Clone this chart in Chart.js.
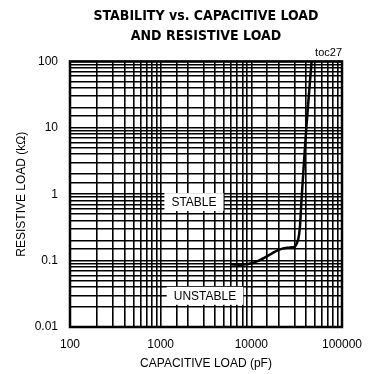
<!DOCTYPE html>
<html>
<head>
<meta charset="utf-8">
<script src="https://cdn.jsdelivr.net/npm/chart.js@4.4.1/dist/chart.umd.min.js"></script>
<style>
  body { margin: 0; background: #fff; }
  canvas { display: block; }
</style>
</head>
<body>
<canvas id="myChart1" width="376" height="374"></canvas>
<script>
// boundary between stable / unstable
var capLoad = [6000, 8000, 10400, 13000, 16000, 19000, 21600, 25000, 28500, 30300, 32900, 34400, 35800, 40400, 46200];
var resLoad = [0.088, 0.087, 0.092, 0.105, 0.123, 0.140, 0.150, 0.156, 0.159, 0.162, 0.21, 0.33, 0.84, 10, 100];

var xTickLabels = [100, 1000, 10000, 100000];
var yTickLabels = [0.01, 0.1, 1, 10, 100];

var regionNames = ["STABLE", "UNSTABLE"];
var regionCap = [2330, 3080];
var regionRes = [0.76, 0.0295];

var points = [];
for (var i = 0; i < capLoad.length; i++) {
  points.push({ x: capLoad[i], y: resLoad[i] });
}

var font = "'Liberation Sans', Arial, sans-serif";

// frame + region labels
var extras = {
  id: 'extras',
  afterDraw: function (chart) {
    var c = chart.ctx, a = chart.chartArea;
    c.save();
    c.strokeStyle = '#000';
    c.lineWidth = 2.5;
    c.strokeRect(a.left, a.top, a.right - a.left, a.bottom - a.top);
    c.font = '12px ' + font;
    c.textAlign = 'center';
    c.textBaseline = 'middle';
    for (var i = 0; i < regionNames.length; i++) {
      var px = chart.scales.x.getPixelForValue(regionCap[i]);
      var py = chart.scales.y.getPixelForValue(regionRes[i]);
      var w = c.measureText(regionNames[i]).width + 14;
      c.fillStyle = '#fff';
      c.fillRect(px - w / 2, py - 9, w, 18);
      c.fillStyle = '#000';
      c.fillText(regionNames[i], px, py + 1);
    }
    c.restore();
  }
};

function logLabel(list) {
  return function (v) {
    return list.indexOf(v) >= 0 ? String(v) : '';
  };
}

var ctx = document.getElementById("myChart1");
var myChart = new Chart(ctx, {
  type: 'line',
  data: {
    datasets: [{
      data: points,
      borderColor: '#000',
      borderWidth: 2.5,
      pointRadius: 0,
      tension: 0.2,
      fill: false
    }]
  },
  options: {
    responsive: false,
    animation: false,
    layout: { padding: { left: 0, right: 34, top: 0, bottom: 0 } },
    plugins: {
      legend: { display: false },
      tooltip: { enabled: false },
      title: {
        display: true,
        fullSize: false,
        text: ['STABILITY vs. CAPACITIVE LOAD', 'AND RESISTIVE LOAD'],
        color: '#000',
        font: { family: "'DejaVu Sans Condensed', sans-serif", size: 14, weight: 'bold', lineHeight: 1.4 },
        padding: { top: 7, bottom: 0 }
      },
      subtitle: {
        display: true,
        fullSize: false,
        align: 'end',
        text: 'toc27',
        color: '#000',
        font: { family: font, size: 11, lineHeight: 1.2 },
        padding: { top: 0, bottom: 2 }
      }
    },
    scales: {
      x: {
        type: 'logarithmic',
        min: 100,
        max: 100000,
        afterFit: function (s) { s.height = 47; },
        grid: { color: '#000', lineWidth: 1.6, drawTicks: false },
        border: { display: false },
        ticks: {
          autoSkip: false, maxRotation: 0, padding: 10, color: '#000',
          font: { family: font, size: 12 },
          callback: logLabel(xTickLabels)
        },
        title: {
          display: true, text: 'CAPACITIVE LOAD (pF)', color: '#000',
          font: { family: font, size: 12 }, padding: { top: 4, bottom: 3 }
        }
      },
      y: {
        type: 'logarithmic',
        min: 0.01,
        max: 100,
        afterFit: function (s) { s.width = 70; },
        grid: { color: '#000', lineWidth: 1.6, drawTicks: false },
        border: { display: false },
        ticks: {
          autoSkip: false, padding: 12, color: '#000',
          font: { family: font, size: 12 },
          callback: logLabel(yTickLabels)
        },
        title: {
          display: true, text: 'RESISTIVE LOAD (kΩ)', color: '#000',
          font: { family: font, size: 12 }, padding: { top: 14, bottom: 0 }
        }
      }
    }
  },
  plugins: [extras]
});
</script>
</body>
</html>
